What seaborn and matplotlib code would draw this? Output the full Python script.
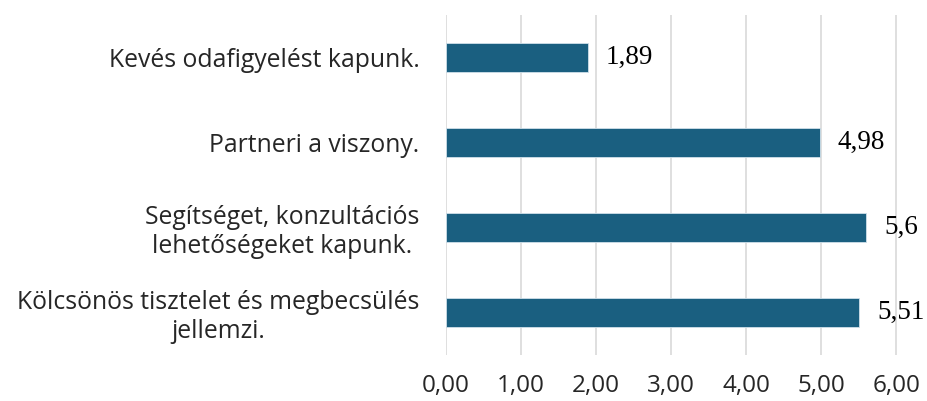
import matplotlib
matplotlib.use("Agg")
import matplotlib.pyplot as plt
import seaborn as sns
import pandas as pd

# Statements and their mean scores
statements = [
    "Kevés odafigyelést kapunk.",
    "Partneri a viszony.",
    "Segítséget, konzultációs\nlehetőségeket kapunk.",
    "Kölcsönös tisztelet és megbecsülés\njellemzi.",
]
scores = [1.89, 4.98, 5.6, 5.51]
score_labels = ["1,89", "4,98", "5,6", "5,51"]
xticks = [0, 1, 2, 3, 4, 5, 6]
xtick_labels = ["0,00", "1,00", "2,00", "3,00", "4,00", "5,00", "6,00"]

df = pd.DataFrame({"statement": statements, "score": scores})

sns.set_style("white")
plt.rcParams["font.family"] = ["Open Sans", "DejaVu Sans"]

fig = plt.figure(figsize=(9.28, 4.01), dpi=100)
ax = fig.add_axes([0.4806, 0.1147, 0.4892, 0.848])

sns.barplot(data=df, x="score", y="statement", orient="h", color="#1a5f80",
            width=0.35, saturation=1, edgecolor="#cfe0ea", linewidth=0.6, ax=ax)

ax.bar_label(ax.containers[0], labels=score_labels, padding=13,
             fontsize=19.5, family="Liberation Serif", color="black")

ax.set_xlim(0, 6.05)
ax.set_ylim(3.5, -0.5)
ax.set_xticks(xticks)
ax.set_xticklabels(xtick_labels, fontsize=17.5)
ax.tick_params(axis="y", labelsize=17.8, pad=19, length=0)
ax.tick_params(axis="x", pad=14, length=0)
for lbl in ax.get_yticklabels():
    lbl.set_multialignment("center")

ax.grid(axis="x", color="#d9d9d9", linewidth=1.2)
ax.set_axisbelow(True)
sns.despine(ax=ax, left=True, bottom=True)
ax.set_xlabel("")
ax.set_ylabel("")

fig.savefig("out.png", dpi=100)
